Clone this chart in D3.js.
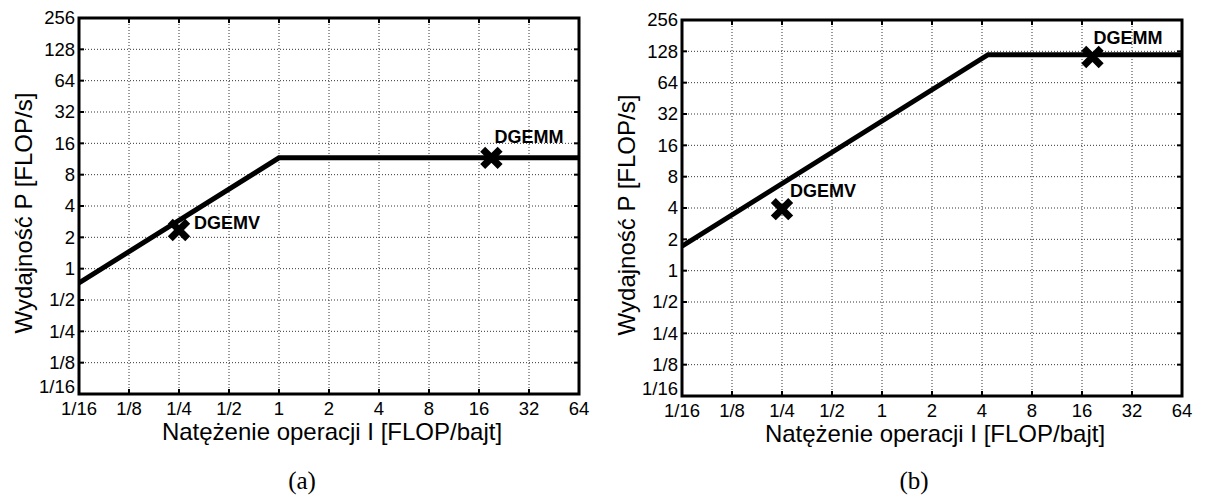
<!DOCTYPE html>
<html>
<head>
<meta charset="utf-8">
<script src="https://cdn.jsdelivr.net/npm/d3@7"></script>
<style>
  body { margin: 0; background: #fff; }
  svg { display: block; font-family: "Liberation Sans", Arial, sans-serif; }
  .grid line { stroke: #333; stroke-width: 1; stroke-dasharray: 1,2; }
  .tick-label { font-size: 18.5px; fill: #000; }
  .axis-title { font-size: 24px; fill: #000; }
  .caption { font-family: "Liberation Serif", "DejaVu Serif", serif; font-size: 25px; }
  .point-label { font-size: 18px; font-weight: bold; }
</style>
</head>
<body>
<div id="chart"></div>
<script>
// tick values (powers of two) and their labels
var xTicks = [1/16, 1/8, 1/4, 1/2, 1, 2, 4, 8, 16, 32, 64];
var xTickLabels = ["1/16", "1/8", "1/4", "1/2", "1", "2", "4", "8", "16", "32", "64"];
var yTicks = [1/16, 1/8, 1/4, 1/2, 1, 2, 4, 8, 16, 32, 64, 128, 256];
var yTickLabels = ["1/16", "1/8", "1/4", "1/2", "1", "2", "4", "8", "16", "32", "64", "128", "256"];

// roofline vertices
var roofA_I = [1/16, 1, 64];
var roofA_P = [0.73, 11.6, 11.6];
var roofB_I = [1/16, 4.35, 64];
var roofB_P = [1.72, 119, 119];

// measured kernels
var pointNames = ["DGEMV", "DGEMM"];
var pointsA_I = [0.25, 19];
var pointsA_P = [2.35, 11.6];
var pointsB_I = [0.25, 18.5];
var pointsB_P = [3.9, 113];

var xTitle = "Natężenie operacji I [FLOP/bajt]";
var yTitle = "Wydajność P [FLOP/s]";

var width = 1206, height = 496;

var svg = d3.select("#chart").append("svg")
    .attr("width", width)
    .attr("height", height);

var panels = [
    {left: 79, right: 579, top: 18, bottom: 394, caption: "(a)", captionX: 302,
     roofI: roofA_I, roofP: roofA_P, ptI: pointsA_I, ptP: pointsA_P,
     labelOff: [[15, -1], [3, -15]]},
    {left: 682, right: 1182, top: 20, bottom: 396, caption: "(b)", captionX: 914,
     roofI: roofB_I, roofP: roofB_P, ptI: pointsB_I, ptP: pointsB_P,
     labelOff: [[8, -12], [1, -13]]}
];

panels.forEach(function (p, k) {
    var x = d3.scaleLog().base(2).domain([1/16, 64]).range([p.left, p.right]);
    var y = d3.scaleLog().base(2).domain([1/16, 256]).range([p.bottom, p.top]);

    var g = svg.append("g");

    // dotted grid
    var grid = g.append("g").attr("class", "grid");
    grid.selectAll(".gx").data(xTicks.slice(1, -1)).enter().append("line")
        .attr("x1", function (d) { return x(d); })
        .attr("x2", function (d) { return x(d); })
        .attr("y1", p.top).attr("y2", p.bottom);
    grid.selectAll(".gy").data(yTicks.slice(1, -1)).enter().append("line")
        .attr("y1", function (d) { return y(d); })
        .attr("y2", function (d) { return y(d); })
        .attr("x1", p.left).attr("x2", p.right);

    // inward tick marks on all four sides
    var ticks = g.append("g").attr("stroke", "#000").attr("stroke-width", 2);
    xTicks.forEach(function (d) {
        ticks.append("line").attr("x1", x(d)).attr("x2", x(d)).attr("y1", p.bottom).attr("y2", p.bottom - 5);
        ticks.append("line").attr("x1", x(d)).attr("x2", x(d)).attr("y1", p.top).attr("y2", p.top + 5);
    });
    yTicks.forEach(function (d) {
        ticks.append("line").attr("y1", y(d)).attr("y2", y(d)).attr("x1", p.left).attr("x2", p.left + 5);
        ticks.append("line").attr("y1", y(d)).attr("y2", y(d)).attr("x1", p.right).attr("x2", p.right - 5);
    });

    // tick labels
    g.selectAll(".xl").data(xTicks).enter().append("text")
        .attr("class", "tick-label")
        .attr("x", function (d) { return x(d); })
        .attr("y", p.bottom + 21)
        .attr("text-anchor", "middle")
        .text(function (d, i) { return xTickLabels[i]; });
    g.selectAll(".yl").data(yTicks).enter().append("text")
        .attr("class", "tick-label")
        .attr("x", p.left - 4)
        .attr("y", function (d) { return y(d); })
        .attr("dy", function (d, i) { return i == 0 ? "-0.05em" : "0.35em"; })
        .attr("text-anchor", "end")
        .text(function (d, i) { return yTickLabels[i]; });

    // roofline
    var clipId = "clip" + k;
    svg.append("clipPath").attr("id", clipId).append("rect")
        .attr("x", p.left).attr("y", p.top)
        .attr("width", p.right - p.left).attr("height", p.bottom - p.top);
    var roof = p.roofI.map(function (d, i) { return [d, p.roofP[i]]; });
    g.append("path")
        .datum(roof)
        .attr("clip-path", "url(#" + clipId + ")")
        .attr("fill", "none")
        .attr("stroke", "#000")
        .attr("stroke-width", 5)
        .attr("d", d3.line().x(function (d) { return x(d[0]); }).y(function (d) { return y(d[1]); }));

    // frame
    g.append("rect")
        .attr("x", p.left).attr("y", p.top)
        .attr("width", p.right - p.left).attr("height", p.bottom - p.top)
        .attr("fill", "none").attr("stroke", "#000").attr("stroke-width", 3);

    // markers
    var pts = p.ptI.map(function (d, i) { return {I: d, P: p.ptP[i], name: pointNames[i], off: p.labelOff[i]}; });
    g.selectAll(".mk").data(pts).enter().append("path")
        .attr("transform", function (d) { return "translate(" + x(d.I) + "," + y(d.P) + ")"; })
        .attr("d", d3.symbol(d3.symbolX, 200))
        .attr("fill", "none")
        .attr("stroke", "#000")
        .attr("stroke-width", 7);
    g.selectAll(".ml").data(pts).enter().append("text")
        .attr("class", "point-label")
        .attr("x", function (d) { return x(d.I) + d.off[0]; })
        .attr("y", function (d) { return y(d.P) + d.off[1]; })
        .text(function (d) { return d.name; });

    // axis titles
    g.append("text")
        .attr("class", "axis-title")
        .attr("x", (p.left + p.right) / 2 + 3)
        .attr("y", p.bottom + 46)
        .attr("text-anchor", "middle")
        .text(xTitle);
    g.append("text")
        .attr("class", "axis-title")
        .attr("transform", "translate(" + (p.left - 47) + "," + ((p.top + p.bottom) / 2 + 7) + ") rotate(-90)")
        .attr("text-anchor", "middle")
        .text(yTitle);

    // caption
    g.append("text")
        .attr("class", "caption")
        .attr("x", p.captionX)
        .attr("y", 489)
        .attr("text-anchor", "middle")
        .text(p.caption);
});
</script>
</body>
</html>
